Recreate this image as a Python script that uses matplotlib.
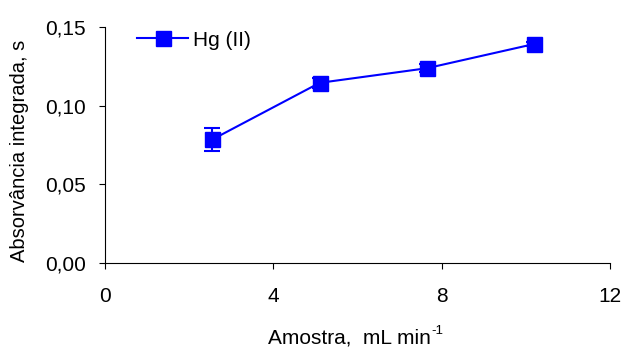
import matplotlib
matplotlib.use("Agg")
import matplotlib.pyplot as plt
from matplotlib.lines import Line2D

plt.rcParams['font.family'] = ['Liberation Sans', 'DejaVu Sans']

flow = [2.55, 5.1, 7.65, 10.2]
absorb = [0.0785, 0.1145, 0.1238, 0.1392]
err = [0.0070, 0.0030, 0.0025, 0.0015]
xticks = [0, 4, 8, 12]
yticks = [0.0, 0.05, 0.10, 0.15]
ylabels = ['0,00', '0,05', '0,10', '0,15']

fig = plt.figure(figsize=(6.26, 3.47), dpi=100)
ax = fig.add_axes([105/626, 1-263/347, 505/626, 236/347])
ax.errorbar(flow, absorb, yerr=err, color='#0000ff', marker='s', markersize=10.8,
            linewidth=1.5, capsize=5.5, elinewidth=1.5, capthick=1.5)
ax.set_xlim(0, 12)
ax.set_ylim(0, 0.15)
ax.set_xticks(xticks)
ax.set_xticklabels([str(t) for t in xticks], fontsize=15)
ax.set_yticks(yticks)
ax.set_yticklabels(ylabels, fontsize=15)
for s in ['top', 'right']:
    ax.spines[s].set_visible(False)
ax.tick_params(axis='y', direction='out', length=4.5, width=0.8, pad=9.5)
ax.tick_params(axis='x', direction='out', length=4.5, width=0.8, pad=13)

fig.text(20/626, 1-151/347, 'Absorvância integrada, s', fontsize=14.5,
         rotation=90, ha='center', va='center')
fig.text(268/626, 1-343/347, 'Amostra,  mL min', fontsize=15, ha='left', va='baseline')
fig.text(431/626, 1-331/347, '-1', fontsize=9.5, ha='left', va='center')

h = Line2D([], [], color='#0000ff', marker='s', markersize=10.8, linewidth=1.5)
ax.legend([h], ['Hg (II)'], loc='upper left', frameon=False, fontsize=15,
          handlelength=2.45, handletextpad=0.25, borderpad=0, borderaxespad=0,
          bbox_to_anchor=(32/505, 0.985))
fig.savefig('out.png', dpi=100)
